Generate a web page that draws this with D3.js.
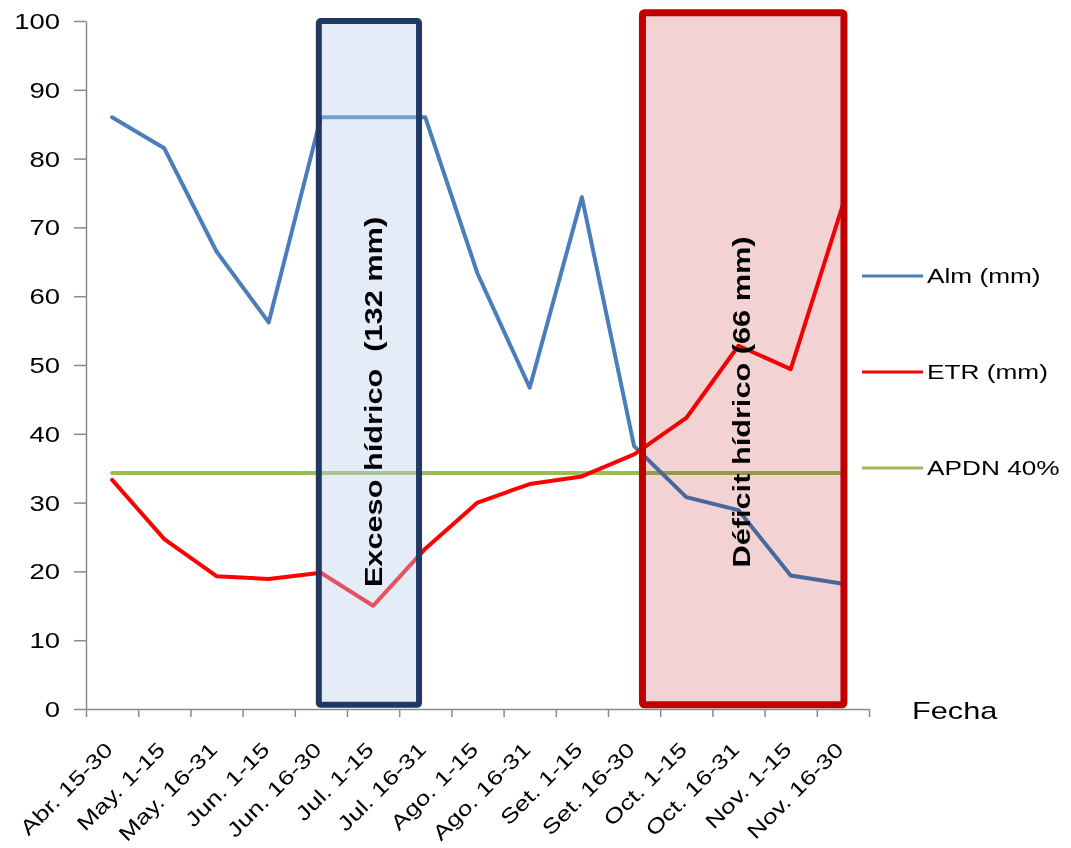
<!DOCTYPE html>
<html>
<head>
<meta charset="utf-8">
<script src="https://cdn.jsdelivr.net/npm/d3@7"></script>
<style>
  body { margin: 0; background: #fff; }
  svg { display: block; font-family: "Liberation Sans", Arial, sans-serif; }
</style>
</head>
<body>
<svg id="chart" width="1071" height="848"></svg>
<script>
// Half-month periods on the x axis
const categories = ["Abr. 15-30", "May. 1-15", "May. 16-31", "Jun. 1-15", "Jun. 16-30",
  "Jul. 1-15", "Jul. 16-31", "Ago. 1-15", "Ago. 16-31", "Set. 1-15", "Set. 16-30",
  "Oct. 1-15", "Oct. 16-31", "Nov. 1-15", "Nov. 16-30"];

// Soil water storage (mm)
const almValues = [86.0, 81.5, 66.5, 56.2, 86.0, 86.0, 86.0, 63.3, 46.7, 74.4, 38.2, 30.8, 28.9, 19.4, 18.2];
// Real evapotranspiration (mm)
const etrValues = [33.3, 24.7, 19.3, 18.9, 19.8, 15.0, 23.3, 30.0, 32.7, 33.8, 37.0, 42.3, 52.8, 49.4, 73.3];
// Readily available water threshold, 40 %
const apdnValues = [34.3, 34.3, 34.3, 34.3, 34.3, 34.3, 34.3, 34.3, 34.3, 34.3, 34.3, 34.3, 34.3, 34.3, 34.3];

const seriesNames = ["Alm (mm)", "ETR (mm)", "APDN 40%"];
const yTicks = [0, 10, 20, 30, 40, 50, 60, 70, 80, 90, 100];

// Highlighted periods (positions in category units, heights in mm)
const periodLabels = ["Exceso hídrico  (132 mm)", "Déficit hídrico (66 mm)"];
const periodStart = [3.96, 10.16];
const periodEnd = [5.88, 14.02];
const periodTop = [100, 101.2];
const periodBottom = [0.6, 0.6];

const svg = d3.select("#chart");
const plot = { left: 86, right: 869, top: 21, bottom: 709 };
const stretch = 1.28;   // wide lettering

const x = d3.scaleLinear().domain([-0.5, categories.length - 0.5]).range([plot.left, plot.right]);
const y = d3.scaleLinear().domain([0, 100]).range([plot.bottom, plot.top]);

const axisColor = "#8a8a8a";

// Y axis
const yAxis = svg.append("g")
  .attr("transform", `translate(${plot.left},0)`)
  .call(d3.axisLeft(y).tickValues(yTicks).tickSize(12).tickSizeOuter(0).tickFormat(""));
yAxis.select(".domain").attr("stroke", axisColor).attr("stroke-width", 1.5);
yAxis.selectAll(".tick line").attr("stroke", axisColor).attr("stroke-width", 1.5);

svg.append("g").selectAll("text").data(yTicks).join("text")
  .attr("transform", d => `translate(60,${y(d)}) scale(1.25,1)`)
  .attr("dy", "0.36em")
  .attr("text-anchor", "end")
  .attr("font-size", 22)
  .attr("fill", "#000")
  .text(d => d);

// X axis: ticks sit between categories
const xTickValues = d3.range(-0.5, categories.length, 1);
const xAxis = svg.append("g")
  .attr("transform", `translate(0,${plot.bottom})`)
  .call(d3.axisBottom(x).tickValues(xTickValues).tickSize(8).tickSizeOuter(0).tickFormat(""));
xAxis.select(".domain").attr("stroke", axisColor).attr("stroke-width", 1.5);
xAxis.selectAll(".tick line").attr("stroke", axisColor).attr("stroke-width", 1.5);

svg.append("g").selectAll("text").data(categories).join("text")
  .attr("transform", (d, i) => `translate(${x(i) + 2},${plot.bottom + 42}) rotate(-45) scale(1.28,1)`)
  .attr("text-anchor", "end")
  .attr("font-size", 20.5)
  .attr("fill", "#000")
  .text(d => d);

svg.append("text")
  .attr("transform", `translate(912,719) scale(${stretch},1)`)
  .attr("font-size", 24)
  .attr("fill", "#000")
  .text("Fecha");

// Series lines
const colors = ["#4a7ebb", "#ff0000", "#9bbb59"];
const seriesValues = [almValues, etrValues, apdnValues];
const line = d3.line().x((d, i) => x(i)).y(d => y(d));

const linesG = svg.append("g");
[2, 0, 1].forEach(k => {
  linesG.append("path")
    .datum(seriesValues[k])
    .attr("d", line)
    .attr("fill", "none")
    .attr("stroke", colors[k])
    .attr("stroke-width", 4)
    .attr("stroke-linejoin", "round")
    .attr("stroke-linecap", "round");
});

// Excess period: translucent blue box
const boxes = svg.append("g");
boxes.append("rect")
  .attr("x", x(periodStart[0]))
  .attr("y", y(periodTop[0]))
  .attr("width", x(periodEnd[0]) - x(periodStart[0]))
  .attr("height", y(periodBottom[0]) - y(periodTop[0]))
  .attr("rx", 2)
  .attr("fill", "rgb(187,207,237)")
  .attr("fill-opacity", 0.4)
  .attr("stroke", "#1f3864")
  .attr("stroke-width", 6);

// Deficit period: pink box tinting the lines below it
boxes.append("rect")
  .attr("x", x(periodStart[1]))
  .attr("y", y(periodTop[1]))
  .attr("width", x(periodEnd[1]) - x(periodStart[1]))
  .attr("height", y(periodBottom[1]) - y(periodTop[1]))
  .attr("fill", "rgb(243,210,212)")
  .style("mix-blend-mode", "multiply");
boxes.append("rect")
  .attr("x", x(periodStart[1]))
  .attr("y", y(periodTop[1]))
  .attr("width", x(periodEnd[1]) - x(periodStart[1]))
  .attr("height", y(periodBottom[1]) - y(periodTop[1]))
  .attr("rx", 2)
  .attr("fill", "none")
  .attr("stroke", "#c00000")
  .attr("stroke-width", 7);

// Vertical period labels
const labelX = [373, 741];
const labelY = [402, 402];
svg.append("g").selectAll("text").data(periodLabels).join("text")
  .attr("transform", (d, i) => `translate(${labelX[i]},${labelY[i]}) rotate(-90) scale(${stretch},1)`)
  .attr("text-anchor", "middle")
  .attr("dy", "0.36em")
  .attr("font-size", 24)
  .attr("font-weight", "bold")
  .attr("fill", "#000")
  .style("white-space", "pre")
  .text(d => d);

// Legend
const legendY = [276, 372, 468];
const legend = svg.append("g");
legend.selectAll("line").data(seriesNames).join("line")
  .attr("x1", 862).attr("x2", 923)
  .attr("y1", (d, i) => legendY[i]).attr("y2", (d, i) => legendY[i])
  .attr("stroke", (d, i) => colors[i])
  .attr("stroke-width", 3);
legend.selectAll("text").data(seriesNames).join("text")
  .attr("transform", (d, i) => `translate(927,${legendY[i]}) scale(${stretch},1)`)
  .attr("dy", "0.36em")
  .attr("font-size", 20.5)
  .attr("fill", "#000")
  .text(d => d);
</script>
</body>
</html>
